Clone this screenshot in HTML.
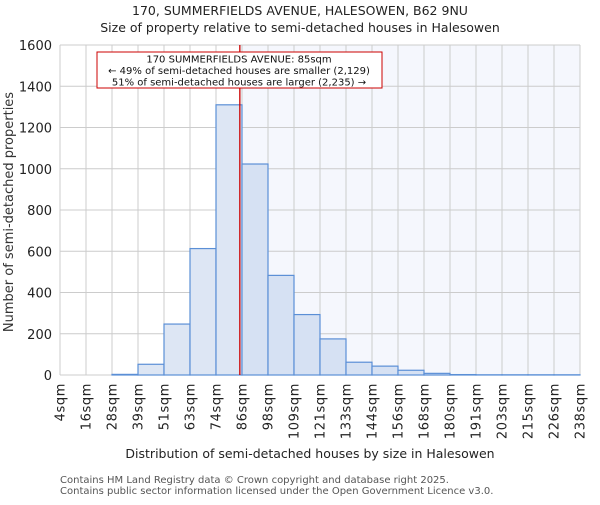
<!DOCTYPE html>
<html><head><meta charset="utf-8"><style>
body{margin:0;background:#fff}
svg text{font-family:"DejaVu Sans","Liberation Sans",sans-serif}
</style></head><body>
<svg id="c" width="600" height="500" xmlns="http://www.w3.org/2000/svg">
<text x="300" y="15" text-anchor="middle" font-size="12.5" fill="#222">170, SUMMERFIELDS AVENUE, HALESOWEN, B62 9NU</text>
<text x="300" y="32" text-anchor="middle" font-size="12.5" fill="#222">Size of property relative to semi-detached houses in Halesowen</text>
<g id="plot"></g>
<text transform="translate(13,212) rotate(-90)" text-anchor="middle" font-size="13" fill="#333">Number of semi-detached properties</text>
<text x="310" y="458" text-anchor="middle" font-size="12.5" fill="#222">Distribution of semi-detached houses by size in Halesowen</text>
<text x="60" y="483" font-size="10" fill="#555">Contains HM Land Registry data © Crown copyright and database right 2025.</text>
<text x="60" y="494" font-size="10" fill="#555">Contains public sector information licensed under the Open Government Licence v3.0.</text>
</svg>
<script>
const edges=[4,16,28,39,51,63,74,86,98,109,121,133,144,156,168,180,191,203,215,226,238];
const counts=[0,0,3,52,247,613,1310,1023,483,293,175,62,43,23,8,2,1,1,1,1];
const yTicks=[0,200,400,600,800,1000,1200,1400,1600];
const subjectSize=85;
const NS="http://www.w3.org/2000/svg";
const L=60,R=580,T=45,B=375,ymax=1600;
const step=(R-L)/(edges.length-1);
function x(v){
  for(let i=0;i<edges.length-1;i++){
    if(v<=edges[i+1]) return L+step*(i+(v-edges[i])/(edges[i+1]-edges[i]));
  }
  return R;
}
const y=v=>B-v/ymax*(B-T);
const g=document.getElementById('plot');
function mk(t,a,p){const e=document.createElementNS(NS,t);for(const k in a)e.setAttribute(k,a[k]);(p||g).appendChild(e);return e;}
const sx=x(subjectSize);
const sh=mk('rect',{x:sx,y:T,width:R-sx,height:B-T,fill:'#f5f7fd'});


yTicks.forEach(t=>{
  const l=mk('line',{x1:L,x2:R,y1:y(t),y2:y(t),stroke:'#ccc','stroke-width':1});
  
  
  const tx=mk('text',{x:L-8,y:y(t)+5,'text-anchor':'end','font-size':13,fill:'#222'});
  tx.textContent=t;
  
  
});
edges.forEach((e,i)=>{
  const px=L+i*step;
  const l=mk('line',{x1:px,x2:px,y1:T,y2:B,stroke:'#ccc','stroke-width':1});
  
  
  const tx=mk('text',{transform:`translate(${px+4.5},383) rotate(-90)`,'text-anchor':'end','font-size':13,'letter-spacing':'0.6',fill:'#222'});
  tx.textContent=e+'sqm';
  
  
});
counts.forEach((c,i)=>{
  const x0=x(edges[i]),x1=x(edges[i+1]);
  const r=mk('rect',{x:x0,y:y(c),width:x1-x0,height:B-y(c),fill:edges[i]>=subjectSize-5?'#d6e1f3':'#dde6f4',stroke:'#5b8fd6','stroke-width':1.2});
  
  
});
const vl=mk('line',{x1:sx,x2:sx,y1:T,y2:B,stroke:'#cc0000','stroke-width':1.3});


const bx=mk('rect',{x:97,y:52,width:285,height:36,fill:'#fff',stroke:'#cc0000','stroke-width':1});


['170 SUMMERFIELDS AVENUE: 85sqm','← 49% of semi-detached houses are smaller (2,129)','51% of semi-detached houses are larger (2,235) →'].forEach((s,i)=>{
  const t=mk('text',{x:239,y:62.5+i*11.5,'text-anchor':'middle','font-size':10,fill:'#111'});
  t.textContent=s;
  
  
});
</script>
</body></html>
